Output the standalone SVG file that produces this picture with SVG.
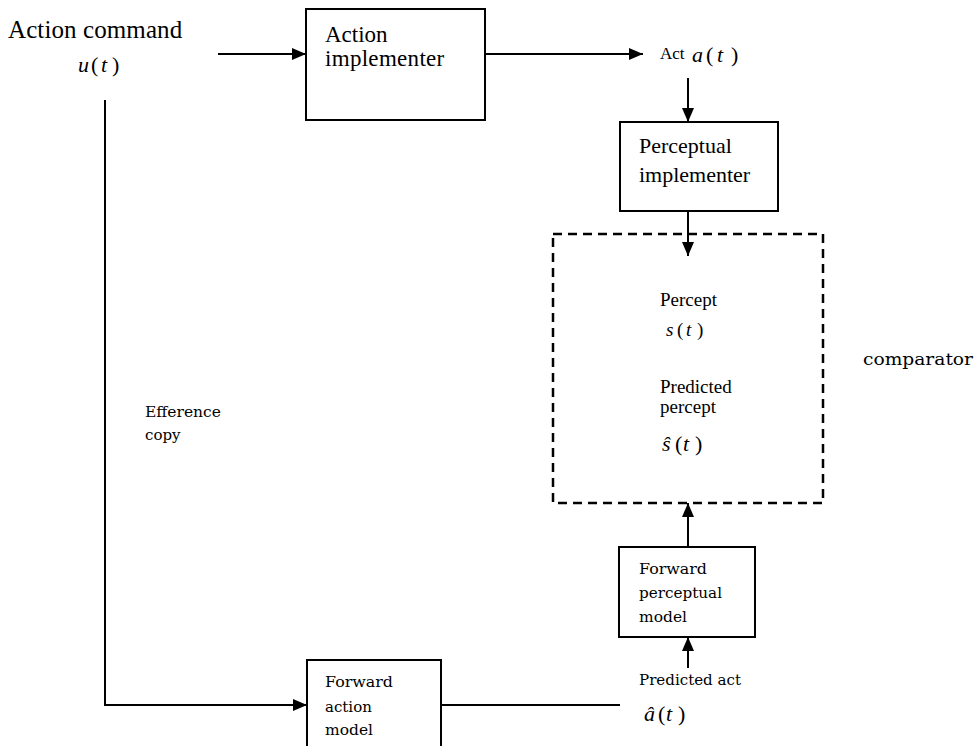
<svg xmlns="http://www.w3.org/2000/svg" width="974" height="746" viewBox="0 0 974 746">
<style>
.box{fill:#fff;stroke:#000;stroke-width:2}
.dash{fill:none;stroke:#000;stroke-width:2.5;stroke-dasharray:9,6}
.ln{fill:none;stroke:#000;stroke-width:2}
.t{font-family:"Liberation Serif","Times New Roman",serif;fill:#000}
.s{font-family:"DejaVu Serif","Liberation Serif",serif;fill:#000}
.m{font-family:"Liberation Serif","Times New Roman",serif;font-style:italic;fill:#000}
</style>
<defs>
<marker id="arr" viewBox="0 0 14 12" refX="14" refY="6" markerWidth="14" markerHeight="12" markerUnits="userSpaceOnUse" orient="auto">
<path d="M0,0 L14,6 L0,12 Z" fill="#000"/>
</marker>
</defs>
<rect width="974" height="746" fill="#fff"/>
<g id="connectors">
<line class="ln" x1="218" y1="54" x2="306" y2="54" marker-end="url(#arr)"/>
<line class="ln" x1="485" y1="54" x2="643" y2="54" marker-end="url(#arr)"/>
<line class="ln" x1="688" y1="78" x2="688" y2="122" marker-end="url(#arr)"/>
<line class="ln" x1="688" y1="211" x2="688" y2="256" marker-end="url(#arr)"/>
<line class="ln" x1="688" y1="547" x2="688" y2="503" marker-end="url(#arr)"/>
<line class="ln" x1="688" y1="668" x2="688" y2="637" marker-end="url(#arr)"/>
<polyline class="ln" points="105,100 105,705 307,705" marker-end="url(#arr)"/>
<line class="ln" x1="441" y1="705" x2="620" y2="705"/>
</g>
<g id="action-command">
<text class="t" x="8" y="38" font-size="25" letter-spacing="0.1">Action command</text>
<text class="m" x="78" y="72" font-size="22">u</text>
<text class="t" x="91" y="72" font-size="22">(</text>
<text class="m" x="101" y="72" font-size="22">t</text>
<text class="t" x="112" y="72" font-size="22">)</text>
</g>
<g id="action-implementer">
<rect class="box" x="306" y="9" width="179" height="111"/>
<text class="t" x="325" y="42" font-size="23">Action</text>
<text class="t" x="325" y="66" font-size="23" letter-spacing="0.3">implementer</text>
</g>
<g id="act">
<text class="t" x="660" y="59" font-size="17">Act</text>
<text class="m" x="692" y="62" font-size="22">a</text>
<text class="t" x="706" y="62" font-size="22">(</text>
<text class="m" x="717" y="62" font-size="22">t</text>
<text class="t" x="731" y="62" font-size="22">)</text>
</g>
<g id="perceptual-implementer">
<rect class="box" x="620" y="122" width="158" height="89"/>
<text class="t" x="639" y="153" font-size="22">Perceptual</text>
<text class="t" x="639" y="182" font-size="22">implementer</text>
</g>
<g id="comparator-box">
<rect class="dash" x="553" y="234" width="270" height="269"/>
<text class="t" x="660" y="306" font-size="19">Percept</text>
<text class="m" x="666" y="336" font-size="19">s</text>
<text class="t" x="677" y="336" font-size="19">(</text>
<text class="m" x="686" y="336" font-size="19">t</text>
<text class="t" x="697" y="336" font-size="19">)</text>
<text class="t" x="660" y="393" font-size="19">Predicted</text>
<text class="t" x="660" y="413" font-size="19">percept</text>
<text class="m" x="662" y="451" font-size="22">ŝ</text>
<text class="t" x="675" y="451" font-size="22">(</text>
<text class="m" x="683" y="451" font-size="22">t</text>
<text class="t" x="695" y="451" font-size="22">)</text>
</g>
<g id="comparator">
<text class="s" x="863" y="365" font-size="16" textLength="110" lengthAdjust="spacingAndGlyphs">comparator</text>
</g>
<g id="efference-copy">
<text class="s" x="145" y="417" font-size="15" textLength="76" lengthAdjust="spacingAndGlyphs">Efference</text>
<text class="s" x="145" y="440" font-size="15">copy</text>
</g>
<g id="forward-perceptual-model">
<rect class="box" x="619" y="547" width="136" height="90"/>
<text class="s" x="639" y="574" font-size="15" textLength="68" lengthAdjust="spacingAndGlyphs">Forward</text>
<text class="s" x="639" y="598" font-size="15" textLength="83" lengthAdjust="spacingAndGlyphs">perceptual</text>
<text class="s" x="639" y="622" font-size="15" textLength="48" lengthAdjust="spacingAndGlyphs">model</text>
</g>
<g id="predicted-act">
<text class="s" x="639" y="685" font-size="15" textLength="102" lengthAdjust="spacingAndGlyphs">Predicted act</text>
<text class="m" x="644" y="721" font-size="22">â</text>
<text class="t" x="658" y="721" font-size="22">(</text>
<text class="m" x="666" y="721" font-size="22">t</text>
<text class="t" x="678" y="721" font-size="22">)</text>
</g>
<g id="forward-action-model">
<rect class="box" x="307" y="660" width="134" height="100"/>
<text class="s" x="325" y="687" font-size="15" textLength="68" lengthAdjust="spacingAndGlyphs">Forward</text>
<text class="s" x="325" y="712" font-size="15">action</text>
<text class="s" x="325" y="735" font-size="15" textLength="48" lengthAdjust="spacingAndGlyphs">model</text>
</g>
</svg>
